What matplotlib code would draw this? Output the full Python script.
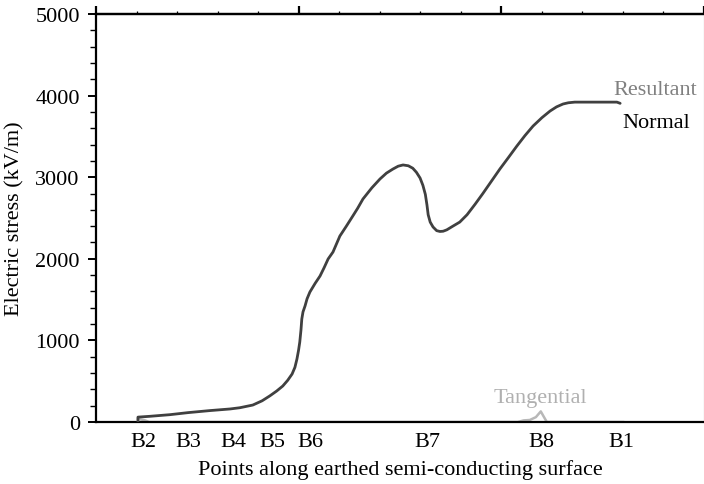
import matplotlib
matplotlib.use("Agg")
import matplotlib.pyplot as plt
from matplotlib.ticker import MultipleLocator, FixedLocator, NullLocator

# Boundary points along the earthed semi-conducting surface
point_labels = ["B2", "B3", "B4", "B5", "B6", "B7", "B8", "B1"]
point_positions = [1.15, 2.26, 3.38, 4.35, 5.27, 8.16, 10.99, 12.95]

# Normal (≈ resultant) electric stress along the surface, kV/m
normal_x = [1.025, 1.025, 1.32, 1.815, 2.26, 2.80, 3.30, 3.54, 3.86, 4.09,
            4.28, 4.45, 4.60, 4.72, 4.83, 4.90, 4.95, 4.99, 5.02, 5.05,
            5.07, 5.10, 5.15, 5.20, 5.27, 5.40, 5.52, 5.62, 5.72, 5.84,
            6.01, 6.17, 6.33, 6.45, 6.58, 6.80, 7.00, 7.16, 7.32, 7.45,
            7.57, 7.70, 7.81, 7.90, 7.99, 8.06, 8.12, 8.16, 8.19, 8.24,
            8.31, 8.40, 8.48, 8.56, 8.65, 8.80, 8.97, 9.15, 9.35, 9.54,
            9.75, 9.96, 10.17, 10.38, 10.58, 10.78, 11.00, 11.20, 11.36, 11.52,
            11.65, 11.81, 12.30, 12.85, 12.93]
normal_y = [0, 60, 70, 90, 115, 140, 160, 175, 208, 260,
            320, 380, 441, 510, 588, 670, 772, 880, 980, 1130,
            1262, 1350, 1422, 1510, 1593, 1700, 1789, 1890, 1998, 2083,
            2279, 2400, 2525, 2620, 2733, 2870, 2978, 3050, 3100, 3135,
            3150, 3140, 3110, 3060, 2990, 2900, 2790, 2660, 2540, 2450,
            2390, 2345, 2335, 2338, 2355, 2400, 2450, 2540, 2670, 2800,
            2950, 3100, 3240, 3382, 3510, 3627, 3730, 3811, 3862, 3897,
            3912, 3920, 3920, 3920, 3905]

# Tangential stress component, kV/m
tangential_x = [1.025, 1.2, 1.3, 9.8, 10.4, 10.55, 10.7, 10.85, 10.97, 11.05, 11.12, 13.0]
tangential_y = [40, 20, 0, 0, 0, 20, 25, 60, 130, 60, 0, 0]

plt.rcParams["font.family"] = ["Liberation Serif", "DejaVu Serif"]

fig = plt.figure(figsize=(7.04, 4.85), dpi=100)
ax = fig.add_axes([0.137, 0.1278, 0.863, 0.8413])

ax.plot(tangential_x, tangential_y, color="#b8b8b8", lw=1.8, zorder=2)
ax.plot(normal_x, normal_y, color="#404040", lw=2.0, zorder=3,
        solid_joinstyle="round", solid_capstyle="round")

ax.set_xlim(0, 15)
ax.set_ylim(0, 5000)

# Spines
for side in ("left", "top", "bottom"):
    ax.spines[side].set_linewidth(1.6)
    ax.spines[side].set_color("black")
ax.spines["right"].set_color("#dddddd")
ax.spines["right"].set_linewidth(1.0)

# Y axis ticks
ax.yaxis.set_major_locator(MultipleLocator(1000))
ax.yaxis.set_minor_locator(MultipleLocator(200))
ax.tick_params(axis="y", which="major", direction="out", length=6, width=1.4,
               labelsize=16, pad=6)
ax.tick_params(axis="y", which="minor", direction="out", length=4, width=1.0)
ax.tick_params(axis="y", which="both", right=False)

# Bottom axis: named points, no tick marks
ax.xaxis.set_major_locator(FixedLocator(point_positions))
ax.set_xticklabels(point_labels)
ax.xaxis.set_minor_locator(NullLocator())
ax.tick_params(axis="x", which="major", length=0, labelsize=16, pad=7)

# Top axis: unlabeled scale ticks
top = ax.secondary_xaxis("top")
top.xaxis.set_major_locator(MultipleLocator(5))
top.xaxis.set_minor_locator(MultipleLocator(1))
top.tick_params(axis="x", which="major", direction="out", length=6, width=1.6,
                labelbottom=False, labeltop=False)
top.tick_params(axis="x", which="minor", direction="out", length=2.5, width=0.9)
top.spines["top"].set_linewidth(1.6)

ax.set_xlabel("Points along earthed semi-conducting surface", fontsize=16, labelpad=6)
ax.set_ylabel("Electric stress (kV/m)", fontsize=16, labelpad=8)

ax.text(13.79, 4020, "Resultant", color="#808080", fontsize=16,
        ha="center", va="baseline")
ax.text(13.81, 3615, "Normal", color="black", fontsize=16,
        ha="center", va="baseline")
ax.text(10.97, 245, "Tangential", color="#b0b0b0", fontsize=16,
        ha="center", va="baseline")

fig.savefig("out.png", dpi=100)
